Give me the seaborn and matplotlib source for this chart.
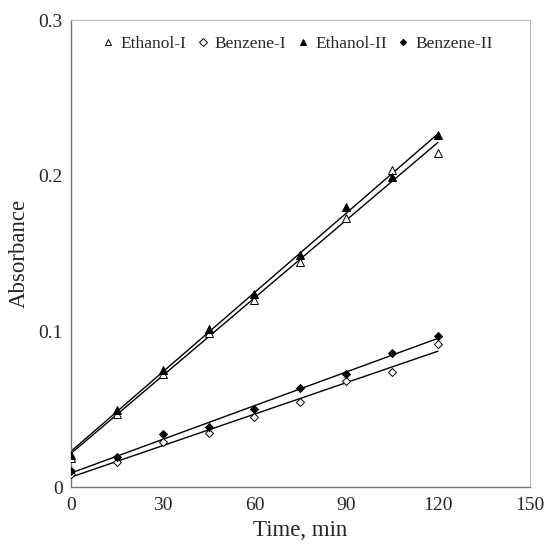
import numpy as np
import pandas as pd
import matplotlib
matplotlib.use('Agg')
import matplotlib.pyplot as plt
import seaborn as sns

# Data
time_min     = [0, 15, 30, 45, 60, 75, 90, 105, 120]
ethanol_I    = [0.019, 0.047, 0.073, 0.099, 0.120, 0.1445, 0.173, 0.2035, 0.215]
benzene_I    = [0.0083, 0.016, 0.029, 0.035, 0.045, 0.055, 0.068, 0.074, 0.092]
ethanol_II   = [0.0205, 0.0495, 0.075, 0.1015, 0.124, 0.149, 0.180, 0.199, 0.2265]
benzene_II   = [0.0103, 0.0193, 0.034, 0.0385, 0.050, 0.0636, 0.0726, 0.086, 0.097]

series_names = ['Ethanol-I', 'Benzene-I', 'Ethanol-II', 'Benzene-II']
x_ticks = [0, 30, 60, 90, 120, 150]
y_ticks = [0, 0.1, 0.2, 0.3]
y_tick_labels = ['0', '0.1', '0.2', '0.3']

sns.set_style('white')
plt.rcParams['font.family'] = ['Liberation Serif', 'DejaVu Serif']

df = pd.DataFrame({'Time': time_min * 4,
                   'Absorbance': ethanol_I + benzene_I + ethanol_II + benzene_II,
                   'Series': np.repeat(series_names, len(time_min))})

styles = {
    'Ethanol-I':  dict(marker='^', fc='white', size=5.8),
    'Benzene-I':  dict(marker='D', fc='white', size=4.5),
    'Ethanol-II': dict(marker='^', fc='black', size=5.8),
    'Benzene-II': dict(marker='D', fc='black', size=4.0),
}

fig = plt.figure(figsize=(5.45, 5.45), dpi=100)
ax = fig.add_axes([0.130, 0.106, 0.842, 0.857])

# trend lines (least squares, like the original)
for name in series_names:
    sub = df[df['Series'] == name]
    sns.regplot(data=sub, x='Time', y='Absorbance', ax=ax, ci=None,
                scatter=False, truncate=True,
                line_kws=dict(color='black', lw=1.0))

handles = []
for name in series_names:
    sub = df[df['Series'] == name]
    st = styles[name]
    h, = ax.plot(sub['Time'], sub['Absorbance'], ls='none', marker=st['marker'],
                 ms=st['size'], mfc=st['fc'], mec='black', mew=0.7, label=name,
                 zorder=3)
    handles.append(h)

ax.legend(handles=handles, loc='upper center', bbox_to_anchor=(0.495, 1.0),
          ncol=4, frameon=False, fontsize=12.5, handlelength=0.6,
          handletextpad=0.4, columnspacing=0.65, markerscale=0.8)

ax.set_xlim(0, 150)
ax.set_ylim(0, 0.3)
ax.set_xticks(x_ticks)
ax.set_yticks(y_ticks)
ax.set_yticklabels(y_tick_labels)
ax.set_xlabel('Time, min', fontsize=16.5, labelpad=4)
ax.set_ylabel('Absorbance', fontsize=16.5, labelpad=6)
ax.tick_params(axis='x', direction='inout', length=7, width=0.8,
               color='#777777', labelsize=14)
ax.tick_params(axis='y', direction='in', length=6, width=0.8,
               color='#777777', labelsize=14)
ax.tick_params(axis='y', pad=6)
for side in ['left', 'bottom']:
    ax.spines[side].set_color('#777777')
    ax.spines[side].set_linewidth(1.0)
for side in ['top', 'right']:
    ax.spines[side].set_color('#bbbbbb')
    ax.spines[side].set_linewidth(0.8)

plt.savefig('out.png', dpi=100)
plt.close()
